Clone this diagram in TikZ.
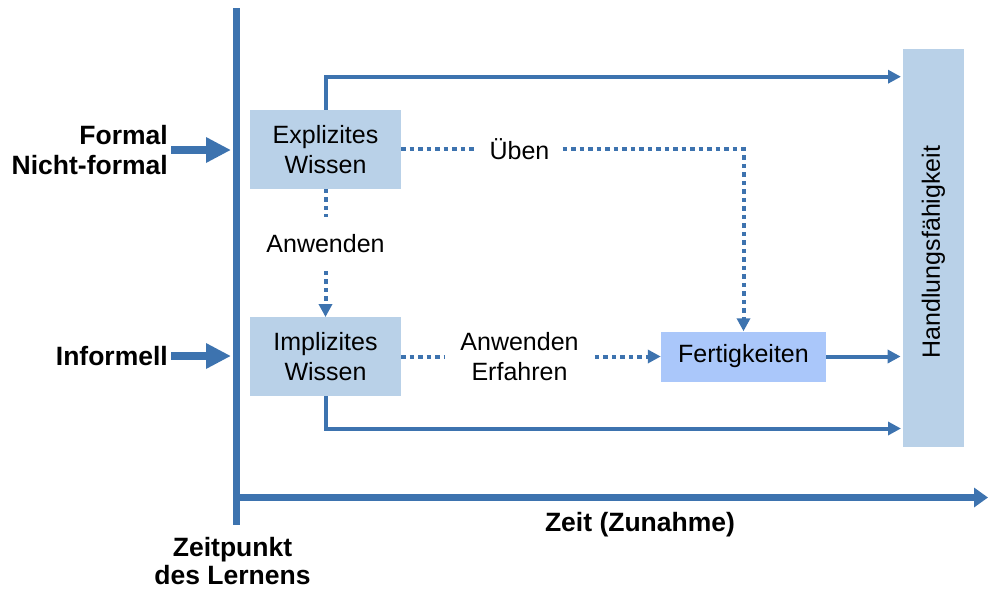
\documentclass[tikz,border=0pt]{standalone}
\usepackage{fontspec}
\setmainfont{Liberation Sans}
\usetikzlibrary{arrows.meta}
\definecolor{axisblue}{RGB}{61,115,175}
\definecolor{boxblue}{RGB}{185,209,232}
\definecolor{fertblue}{RGB}{170,199,250}
\begin{document}
\begin{tikzpicture}[x=1pt,y=-1pt,
  reg/.style={font=\fontsize{25}{30}\selectfont},
  bld/.style={font=\fontsize{26.5}{30}\selectfont\bfseries},
  box/.style={reg, fill=boxblue, align=center, inner sep=0pt, minimum width=151pt, minimum height=78.5pt},
  tip/.style={-{Triangle[length=13pt,width=13pt]}},
  conn/.style={draw=axisblue, line width=4pt},
  dotconn/.style={draw=axisblue, line width=4pt, dash pattern=on 4.5pt off 4pt},
  bigarrow/.style={draw=axisblue, line width=8pt, -{Triangle[length=25pt,width=24pt]}},
  axisline/.style={draw=axisblue, line width=6.5pt}
]
\useasboundingbox (0,0) rectangle (988,592);

% axes
\coordinate (vt) at (236.7,8);
\coordinate (vb) at (236.7,525);
\draw[axisline] (vt) -- (vb);
\coordinate (h0) at (233.5,497.5);
\coordinate (h1) at (988,497.5);
\draw[axisline, -{Triangle[length=14pt,width=19pt]}] (h0) -- (h1);

% boxes
\node[box] (ex) at (325.5,149.3) {Explizites\\Wissen};
\node[box] (im) at (325.5,356.5) {Implizites\\Wissen};
\node[reg, fill=fertblue, minimum width=165pt, minimum height=50pt, inner sep=0pt] (fe) at (743.5,356.5) {Fertigkeiten};
\node[fill=boxblue, minimum width=61.3pt, minimum height=398pt, inner sep=0pt] (ha) at (933.5,248.2) {};
\node[reg, rotate=90, inner sep=0pt] (hat) at (933.5,252) {Handlungsfähigkeit};

% labels on dotted connectors
\node[reg, inner xsep=13pt, inner ysep=0pt] (ue) at (519.5,149.3) {Üben};
\node[reg, inner xsep=0pt, inner ysep=17.5pt] (an1) at (325.5,244) {Anwenden};
\node[reg, align=center, inner xsep=16pt, inner ysep=0pt, font=\fontsize{25}{29.5}\selectfont] (an2) at (519.5,356.5) {Anwenden\\Erfahren};

% dotted connectors
\draw[dotconn] (ex.east) -- (ue.west);
\draw[dotconn, tip] (ue.east) -| (fe.north);
\draw[dotconn] (ex.south) -- (an1.north);
\draw[dotconn, tip] (an1.south) -- (im.north);
\draw[dotconn] (im.east) -- (an2.west);
\draw[dotconn, tip] (an2.east) -- (fe.west);

% solid connectors
\coordinate (tr) at (901,76.7);
\coordinate (br) at (901,428.5);
\draw[conn, tip] (ex.north) |- (tr);
\draw[conn, tip] (im.south) |- (br);
\draw[conn, tip, shorten >=2pt] (fe.east) -- (fe.east -| ha.west);

% left inputs
\node[bld, align=right, anchor=east, inner sep=0pt] (fo) at (168,150) {Formal\\Nicht-formal};
\node[bld, anchor=east, inner sep=0pt] (inf) at (168,356) {Informell};
\coordinate (a1) at (231,150);
\coordinate (a2) at (231,356);
\draw[bigarrow, shorten <=3pt] (fo.east) -- (a1);
\draw[bigarrow, shorten <=3pt] (inf.east) -- (a2);

% axis labels
\node[bld, anchor=base, inner sep=0pt] (zz) at (640,531.7) {Zeit (Zunahme)};
\node[bld, align=center, anchor=base, inner sep=0pt, font=\fontsize{26.5}{27.5}\selectfont\bfseries] (zp) at (232.5,584) {Zeitpunkt\\des Lernens};
\end{tikzpicture}
\end{document}
